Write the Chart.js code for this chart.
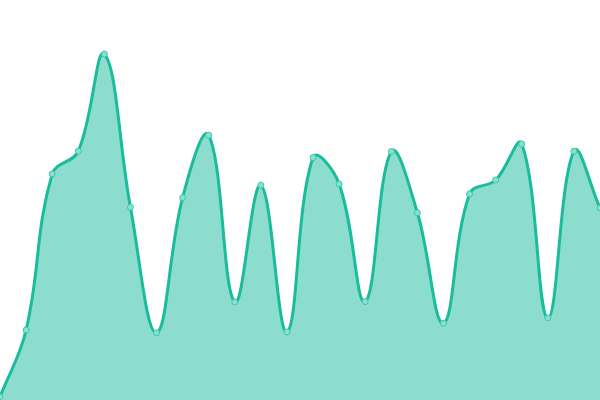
<!DOCTYPE html>
<html>
<head>
<meta charset="utf-8">
<script src="https://cdn.jsdelivr.net/npm/chart.js@4"></script>
<style>
  html, body { margin: 0; padding: 0; background: #fff; }
  #wrap { width: 600px; height: 400px; }
</style>
</head>
<body>
<div id="wrap"><canvas id="chartArea"></canvas></div>
<script>
// === DADOS ===
const labels = ["1", "2", "3", "4", "5", "6", "7", "8", "9", "10", "11", "12",
  "13", "14", "15", "16", "17", "18", "19", "20", "21", "22", "23", "24"];
const valores = [0.8, 17.5, 56.5, 62.2, 86.5, 48.2, 16.8, 50.6, 66.2, 24.5, 53.7, 17,
  60.6, 54, 24.6, 62.1, 46.8, 19.2, 51.5, 55, 64, 20.5, 62.2, 48];

// === GRÁFICO DE ÁREA ===
new Chart(document.getElementById("chartArea"), {
  type: "line",
  data: {
    labels: labels,
    datasets: [{
      data: valores,
      borderColor: "#1abc9c",
      backgroundColor: "rgba(26, 188, 156, 0.5)",
      borderWidth: 3,
      fill: "origin",
      tension: 0.4,
      pointRadius: 3,
      pointBackgroundColor: "#8ae0cf",
      pointBorderColor: "#3cc8a8",
      pointBorderWidth: 1
    }]
  },
  options: {
    responsive: true,
    maintainAspectRatio: false,
    animation: false,
    layout: { padding: 0, autoPadding: false },
    plugins: { legend: { display: false }, tooltip: { enabled: false } },
    scales: {
      x: { display: false, offset: false },
      y: { display: false, min: 0, max: 100 }
    }
  }
});
</script>
</body>
</html>
